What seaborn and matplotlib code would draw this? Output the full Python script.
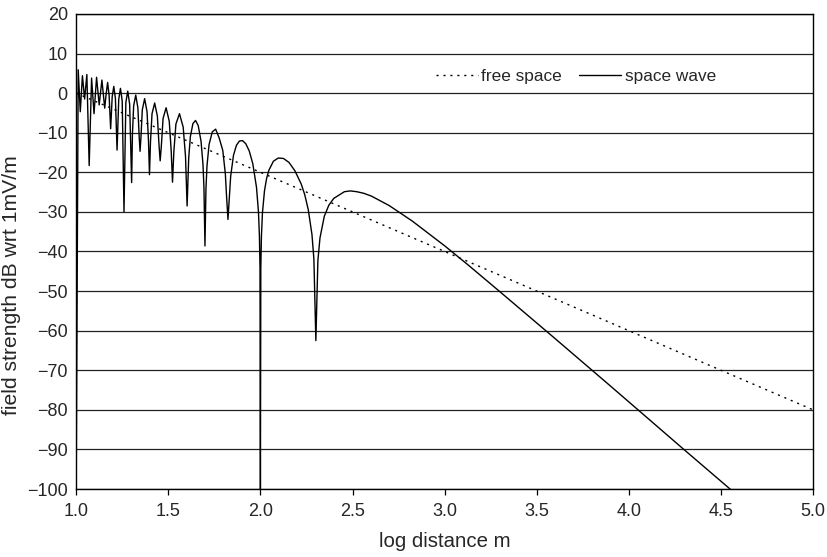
import numpy as np
import matplotlib
matplotlib.use("Agg")
import matplotlib.pyplot as plt
import seaborn as sns
import pandas as pd

# === DATA ===
free_x = [1.0, 5.0]
free_y = [0.0, -80.0]

wave_x = [
    1.0000, 1.0110, 1.0223, 1.0339, 1.0458, 1.0580, 1.0706, 1.0836, 1.0969,
    1.1107, 1.1249, 1.1397, 1.1549,
    1.1627, 1.1707, 1.1788, 1.1871, 1.1955, 1.2041, 1.2129, 1.2219,
    1.2310, 1.2403, 1.2499, 1.2596, 1.2696, 1.2798, 1.2903, 1.3010,
    1.3054, 1.3120, 1.3233, 1.3349, 1.3420, 1.3468,
    1.3516, 1.3590, 1.3716, 1.3846, 1.3925, 1.3979,
    1.4034, 1.4117, 1.4260, 1.4407, 1.4498, 1.4559,
    1.4622, 1.4717, 1.4881, 1.5052, 1.5157, 1.5229,
    1.5302, 1.5414, 1.5607, 1.5809, 1.5935, 1.6021,
    1.6064, 1.6108, 1.6198, 1.6336, 1.6478, 1.6625, 1.6778, 1.6883, 1.6936, 1.6990,
    1.7044, 1.7100, 1.7213, 1.7387, 1.7570, 1.7760, 1.7959, 1.8097, 1.8167, 1.8239,
    1.8312, 1.8386, 1.8539, 1.8697, 1.8861, 1.9031, 1.9208, 1.9393, 1.9586,
    1.9788, 1.9893, 1.9946, 1.9978, 2.0000,
    2.0022, 2.0055, 2.0110, 2.0223, 2.0339, 2.0458, 2.0706, 2.0969, 2.1249,
    2.1549, 2.1871, 2.2219, 2.2403, 2.2596, 2.2798, 2.2903, 2.3010,
    2.3120, 2.3233, 2.3468, 2.3716, 2.3979, 2.4559, 2.4881, 2.5229, 2.5607,
    2.6021, 2.6990, 2.8239, 3.0010, 3.1249, 3.3010, 3.6021, 3.9031, 4.3010, 4.6021,
]
wave_y = [
    -100.0, 5.9, -4.7, 4.4, -1.5, 4.7, -18.3, 3.8, -5.2,
    4.0, -3.0, 3.3, -3.8,
    -0.2, 2.7, -0.6, -9.0, -0.9, 1.7, -1.3, -14.4,
    -1.6, 1.2, -2.0, -30.0, -2.4, 0.5, -2.8, -22.6,
    -10.3, -3.2, -0.5, -3.7, -11.0, -14.7,
    -11.2, -4.2, -1.4, -4.7, -12.0, -20.6,
    -12.3, -5.2, -2.5, -5.8, -13.2, -17.1,
    -13.4, -6.4, -3.7, -7.1, -14.5, -22.5,
    -14.8, -7.8, -5.2, -8.6, -16.0, -28.5,
    -22.2, -16.4, -11.0, -7.7, -6.9, -8.2, -12.2, -18.0, -24.0, -38.6,
    -24.2, -18.4, -13.0, -9.8, -9.1, -11.3, -14.5, -20.4, -26.4, -31.9,
    -26.7, -21.0, -15.7, -13.2, -12.1, -12.0, -12.8, -14.6, -17.8,
    -23.8, -29.9, -36.0, -44.0, -100.0,
    -44.1, -36.2, -30.3, -24.6, -21.5, -19.5, -17.2, -16.4, -16.5,
    -17.5, -19.6, -23.0, -25.6, -29.4, -35.7, -41.9, -62.5,
    -42.3, -36.6, -31.1, -28.3, -26.6, -24.9, -24.7, -24.9, -25.3,
    -26.0, -28.4, -32.3, -38.6, -43.3, -50.2, -62.1, -74.1, -90.1, -102.1,
]

x_ticks = [1.0, 1.5, 2.0, 2.5, 3.0, 3.5, 4.0, 4.5, 5.0]
y_ticks = list(range(-100, 21, 10))

free_df = pd.DataFrame({"log_d": free_x, "dB": free_y})
wave_df = pd.DataFrame({"log_d": wave_x, "dB": wave_y})

# === STYLE ===
sns.set_theme(style="white")
plt.rcParams["font.family"] = ["Liberation Sans", "DejaVu Sans"]

fig, ax = plt.subplots(figsize=(8.28, 5.57), dpi=100)
fig.subplots_adjust(left=0.092, right=0.982, top=0.975, bottom=0.122)

sns.lineplot(data=free_df, x="log_d", y="dB", ax=ax, color="black",
             linewidth=1.0, linestyle=(0, (1.5, 3.5)), sort=False,
             estimator=None, label="free space")
sns.lineplot(data=wave_df, x="log_d", y="dB", ax=ax, color="black",
             linewidth=1.0, sort=False, estimator=None, label="space wave")

ax.set_xlim(1.0, 5.0)
ax.set_ylim(-100, 20)
ax.set_xticks(x_ticks)
ax.set_xticklabels([f"{v:.1f}" for v in x_ticks])
ax.set_yticks(y_ticks)
ax.set_yticklabels([f"{v}".replace("-", "\u2212") for v in y_ticks])

ax.grid(axis="y", color="#222222", linewidth=0.9)
ax.grid(axis="x", visible=False)
ax.set_axisbelow(True)
for sp in ax.spines.values():
    sp.set_color("black")
    sp.set_linewidth(1.0)

ax.tick_params(axis="x", which="major", direction="out", length=4, width=0.9,
               color="black", labelsize=13, pad=6, bottom=True)
ax.tick_params(axis="y", length=0, labelsize=13, pad=6)

ax.set_xlabel("log distance m", fontsize=14.7, labelpad=9)
ax.set_ylabel("field strength dB wrt 1mV/m", fontsize=15.2)
ax.yaxis.set_label_coords(-0.075, 0.43)

ax.legend(loc="center", bbox_to_anchor=(0.678, 0.868), ncol=2, frameon=False,
          fontsize=12.4, handlelength=2.45, columnspacing=1.0, handletextpad=0.2)

plt.savefig("out.png", dpi=100)
plt.close()
